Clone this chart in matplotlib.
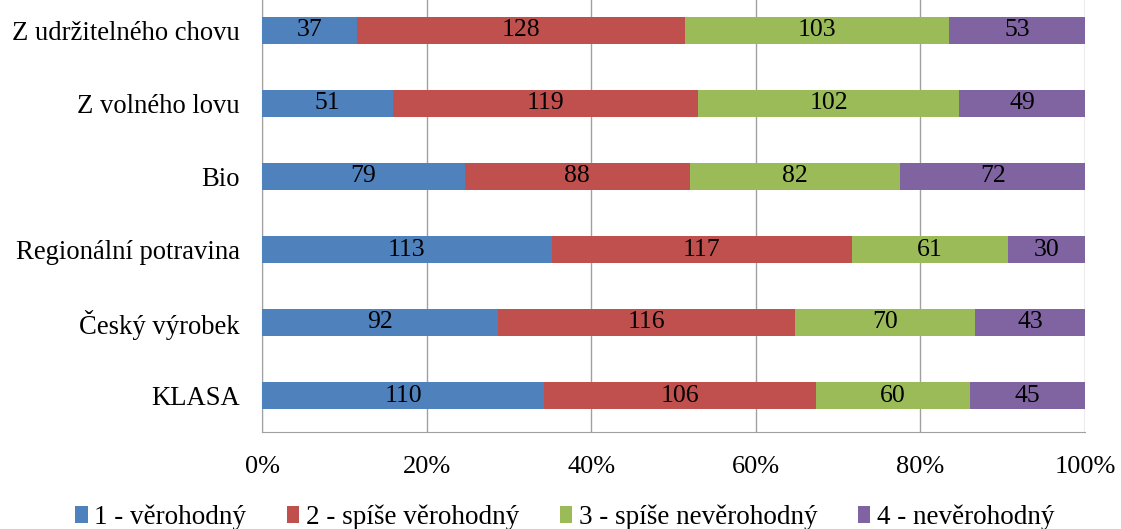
import numpy as np
import matplotlib
matplotlib.use("Agg")
import matplotlib.pyplot as plt

plt.rcParams['font.family'] = ['Liberation Serif', 'DejaVu Serif']

categories = ["Z udržitelného chovu", "Z volného lovu", "Bio",
              "Regionální potravina", "Český výrobek", "KLASA"]
series_names = ["1 - věrohodný", "2 - spíše věrohodný",
                "3 - spíše nevěrohodný", "4 - nevěrohodný"]
verohodny = [37, 51, 79, 113, 92, 110]
spise_verohodny = [128, 119, 88, 117, 116, 106]
spise_neverohodny = [103, 102, 82, 61, 70, 60]
neverohodny = [53, 49, 72, 30, 43, 45]
colors = ["#4F81BD", "#C0504D", "#9BBB59", "#8064A2"]

counts = np.array([verohodny, spise_verohodny, spise_neverohodny, neverohodny], dtype=float)
shares = counts / counts.sum(axis=0)

fig = plt.figure(figsize=(11.21, 5.29), dpi=100)
ax = fig.add_axes([262 / 1121, 97 / 529, 823 / 1121, 438 / 529])

y = np.arange(len(categories))[::-1]
left = np.zeros(len(categories))
for i, (name, col) in enumerate(zip(series_names, colors)):
    bars = ax.barh(y, shares[i], left=left, height=0.37, color=col, label=name, zorder=3)
    ax.bar_label(bars, labels=[str(int(v)) for v in counts[i]], label_type='center',
                 fontsize=18.5, color='black')
    left += shares[i]

ax.set_xlim(0, 1)
ax.set_ylim(-0.5, 5.5)
ax.set_xticks(np.linspace(0, 1, 6))
ax.set_xticklabels([f"{int(t)}%" for t in np.linspace(0, 100, 6)], fontsize=19)
ax.set_yticks(y)
ax.set_yticklabels(categories, fontsize=19.2)
ax.tick_params(axis='both', length=0)
ax.tick_params(axis='x', pad=17)
ax.tick_params(axis='y', pad=16)
ax.grid(axis='x', color='#A0A0A0', linewidth=1, zorder=0)
for s in ['top', 'right']:
    ax.spines[s].set_visible(False)
for s in ['left', 'bottom']:
    ax.spines[s].set_color('#A0A0A0')

fig.legend(loc='lower center', bbox_to_anchor=(0.504, -0.048), ncol=4, frameon=False,
           fontsize=19.5, handlelength=0.45, handleheight=0.55, handletextpad=0.25,
           columnspacing=1.5)

fig.savefig("out.png", dpi=100)
